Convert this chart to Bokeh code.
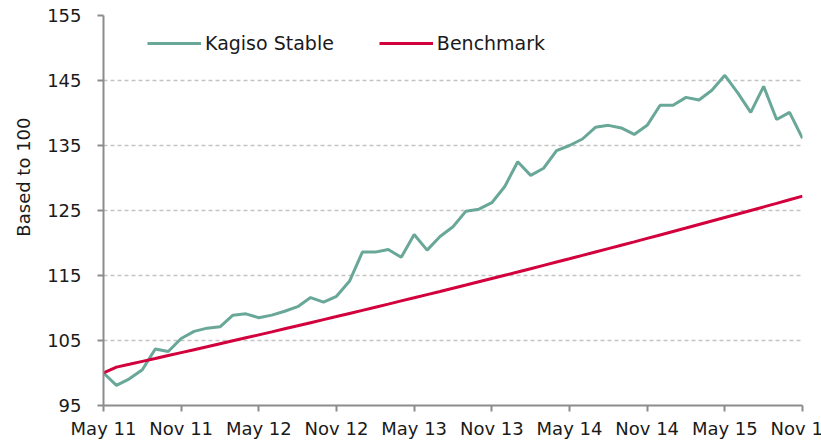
from bokeh.plotting import figure
from bokeh.models import Range1d, FixedTicker, Legend, LegendItem, Title
from bokeh.embed import file_html
from bokeh.resources import INLINE

# Monthly index values, May 2011 .. Nov 2015 (based to 100)
kagiso = [100.0, 98.1, 99.1, 100.5, 103.7, 103.3, 105.3, 106.4, 106.9, 107.1,
          108.9, 109.1, 108.5, 108.9, 109.5, 110.2, 111.6, 110.9, 111.8, 114.1,
          118.6, 118.6, 119.0, 117.8, 121.3, 118.9, 121.0, 122.5, 124.9, 125.2,
          126.2, 128.7, 132.5, 130.4, 131.5, 134.2, 135.0, 136.0, 137.8, 138.1,
          137.7, 136.7, 138.1, 141.2, 141.2, 142.4, 142.0, 143.5, 145.8, 143.1,
          140.1, 144.1, 139.0, 140.1, 136.1]
benchmark = [100.00, 100.90, 101.34, 101.79, 102.23, 102.68, 103.13, 103.58, 104.03, 104.49,
             104.95, 105.41, 105.87, 106.33, 106.80, 107.27, 107.74, 108.21, 108.68, 109.16,
             109.64, 110.12, 110.60, 111.09, 111.57, 112.06, 112.55, 113.05, 113.54, 114.04,
             114.54, 115.04, 115.54, 116.05, 116.56, 117.07, 117.58, 118.10, 118.62, 119.14,
             119.66, 120.18, 120.71, 121.24, 121.77, 122.30, 122.84, 123.38, 123.92, 124.46,
             125.01, 125.55, 126.10, 126.66, 127.21]
tick_labels = ["May 11", "Nov 11", "May 12", "Nov 12", "May 13",
               "Nov 13", "May 14", "Nov 14", "May 15", "Nov 15"]
y_ticks = [95, 105, 115, 125, 135, 145, 155]
y_title = "Based to 100"

months = list(range(len(kagiso)))
x_ticks = [i * 6 for i in range(len(tick_labels))]

FONT = "DejaVu Sans"
TXT = "#1a1a1a"
AXIS = "#8c8c8c"

p = figure(width=840, height=441, output_backend="svg", toolbar_location=None,
           x_range=Range1d(0, 54), y_range=Range1d(95, 155),
           min_border_left=103, min_border_top=15, min_border_right=38,
           min_border_bottom=0)
p.outline_line_color = None
p.background_fill_color = "white"

g = p.line(months, kagiso, line_color="#69a898", line_width=3)
r = p.line(months, benchmark, line_color="#d2003c", line_width=3)

p.xaxis.ticker = FixedTicker(ticks=x_ticks)
p.xaxis.major_label_overrides = {t: l for t, l in zip(x_ticks, tick_labels)}
p.yaxis.ticker = FixedTicker(ticks=y_ticks)
p.ygrid.ticker = FixedTicker(ticks=y_ticks)

for ax in (p.xaxis[0], p.yaxis[0]):
    ax.axis_line_color = AXIS
    ax.axis_line_width = 2
    ax.major_tick_line_color = AXIS
    ax.major_tick_line_width = 2
    ax.major_tick_out = 6
    ax.major_tick_in = 0
    ax.minor_tick_line_color = None
    ax.major_label_text_font = FONT
    ax.major_label_text_font_size = "18px"
    ax.major_label_text_color = TXT

p.xaxis.major_label_standoff = 6
p.yaxis.major_label_standoff = 16

p.add_layout(Title(text=y_title, align="right", offset=102, standoff=21,
                   text_font=FONT, text_font_size="18px",
                   text_font_style="normal", text_color=TXT), "left")

p.xgrid.visible = False
p.ygrid.grid_line_color = "#c4c4c4"
p.ygrid.grid_line_width = 1.5
p.ygrid.grid_line_dash = "4 3"

legend = Legend(items=[LegendItem(label="Kagiso Stable", renderers=[g]),
                       LegendItem(label="Benchmark", renderers=[r])],
                location=(39, 346), orientation="horizontal",
                border_line_alpha=0, background_fill_alpha=0,
                glyph_width=54, label_standoff=4, spacing=45, padding=5,
                label_text_font=FONT, label_text_font_size="19px",
                label_text_color=TXT)
p.add_layout(legend)

open("out.html", "w").write(file_html(p, INLINE))
